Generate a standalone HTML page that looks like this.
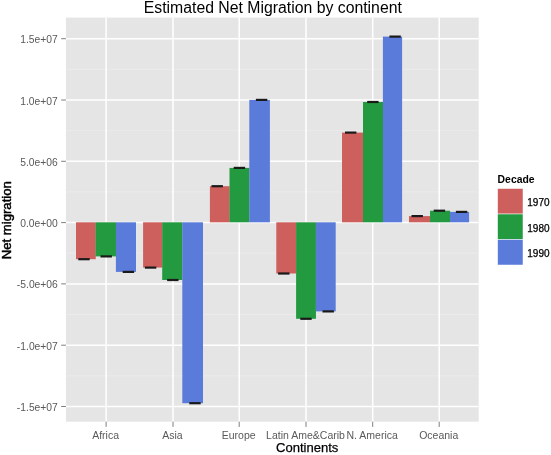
<!DOCTYPE html>
<html><head><meta charset="utf-8"><title>Estimated Net Migration by continent</title>
<style>html,body{margin:0;padding:0;background:#fff;}svg{display:block;}text{font-family:"Liberation Sans",Arial,Helvetica,sans-serif;}</style></head><body>
<svg width="551" height="455" viewBox="0 0 551 455">
<rect width="551" height="455" fill="#fff"/>
<rect x="65.9" y="17.6" width="412.8" height="404.1" fill="#E5E5E5"/>
<line x1="65.9" x2="478.7" y1="69.3" y2="69.3" stroke="#F0F0F0" stroke-width="0.5"/>
<line x1="65.9" x2="478.7" y1="130.6" y2="130.6" stroke="#F0F0F0" stroke-width="0.5"/>
<line x1="65.9" x2="478.7" y1="191.9" y2="191.9" stroke="#F0F0F0" stroke-width="0.5"/>
<line x1="65.9" x2="478.7" y1="253.2" y2="253.2" stroke="#F0F0F0" stroke-width="0.5"/>
<line x1="65.9" x2="478.7" y1="314.5" y2="314.5" stroke="#F0F0F0" stroke-width="0.5"/>
<line x1="65.9" x2="478.7" y1="375.8" y2="375.8" stroke="#F0F0F0" stroke-width="0.5"/>
<line x1="65.9" x2="478.7" y1="38.7" y2="38.7" stroke="#fff" stroke-width="1.5"/>
<line x1="65.9" x2="478.7" y1="100.0" y2="100.0" stroke="#fff" stroke-width="1.5"/>
<line x1="65.9" x2="478.7" y1="161.3" y2="161.3" stroke="#fff" stroke-width="1.5"/>
<line x1="65.9" x2="478.7" y1="222.6" y2="222.6" stroke="#fff" stroke-width="1.5"/>
<line x1="65.9" x2="478.7" y1="283.9" y2="283.9" stroke="#fff" stroke-width="1.5"/>
<line x1="65.9" x2="478.7" y1="345.2" y2="345.2" stroke="#fff" stroke-width="1.5"/>
<line x1="65.9" x2="478.7" y1="406.5" y2="406.5" stroke="#fff" stroke-width="1.5"/>
<line x1="106.1" x2="106.1" y1="17.6" y2="421.7" stroke="#fff" stroke-width="1.5"/>
<line x1="173.0" x2="173.0" y1="17.6" y2="421.7" stroke="#fff" stroke-width="1.5"/>
<line x1="239.2" x2="239.2" y1="17.6" y2="421.7" stroke="#fff" stroke-width="1.5"/>
<line x1="306.0" x2="306.0" y1="17.6" y2="421.7" stroke="#fff" stroke-width="1.5"/>
<line x1="372.7" x2="372.7" y1="17.6" y2="421.7" stroke="#fff" stroke-width="1.5"/>
<line x1="439.2" x2="439.2" y1="17.6" y2="421.7" stroke="#fff" stroke-width="1.5"/>
<rect x="76.00" y="222.3" width="19.75" height="36.9" fill="#CD5F5C"/>
<rect x="95.60" y="222.3" width="20.45" height="34.1" fill="#239A3F"/>
<rect x="115.90" y="222.3" width="20.10" height="49.6" fill="#5B7BDB"/>
<rect x="143.10" y="222.3" width="19.25" height="45.3" fill="#CD5F5C"/>
<rect x="162.20" y="222.3" width="20.25" height="57.7" fill="#239A3F"/>
<rect x="182.30" y="222.3" width="20.70" height="180.9" fill="#5B7BDB"/>
<rect x="209.90" y="186.2" width="19.75" height="36.1" fill="#CD5F5C"/>
<rect x="229.50" y="167.9" width="19.95" height="54.4" fill="#239A3F"/>
<rect x="249.30" y="99.9" width="20.60" height="122.4" fill="#5B7BDB"/>
<rect x="276.30" y="222.3" width="19.95" height="51.2" fill="#CD5F5C"/>
<rect x="296.10" y="222.3" width="19.85" height="96.5" fill="#239A3F"/>
<rect x="315.80" y="222.3" width="19.90" height="89.1" fill="#5B7BDB"/>
<rect x="342.00" y="132.6" width="21.15" height="89.7" fill="#CD5F5C"/>
<rect x="363.00" y="102.0" width="20.05" height="120.3" fill="#239A3F"/>
<rect x="382.90" y="36.6" width="19.20" height="185.7" fill="#5B7BDB"/>
<rect x="409.00" y="216.1" width="21.20" height="6.2" fill="#CD5F5C"/>
<rect x="430.05" y="210.7" width="20.05" height="11.6" fill="#239A3F"/>
<rect x="449.95" y="211.9" width="19.15" height="10.4" fill="#5B7BDB"/>
<rect x="78.3" y="258.1" width="11.4" height="2.2" fill="#1a1a1a"/>
<rect x="100.5" y="255.3" width="11.4" height="2.2" fill="#1a1a1a"/>
<rect x="122.7" y="270.8" width="11.4" height="2.2" fill="#1a1a1a"/>
<rect x="144.9" y="266.5" width="11.4" height="2.2" fill="#1a1a1a"/>
<rect x="167.1" y="278.9" width="11.4" height="2.2" fill="#1a1a1a"/>
<rect x="189.3" y="402.1" width="11.4" height="2.2" fill="#1a1a1a"/>
<rect x="211.5" y="185.1" width="11.4" height="2.2" fill="#1a1a1a"/>
<rect x="233.7" y="166.8" width="11.4" height="2.2" fill="#1a1a1a"/>
<rect x="255.9" y="98.8" width="11.4" height="2.2" fill="#1a1a1a"/>
<rect x="278.1" y="272.4" width="11.4" height="2.2" fill="#1a1a1a"/>
<rect x="300.3" y="317.7" width="11.4" height="2.2" fill="#1a1a1a"/>
<rect x="322.5" y="310.3" width="11.4" height="2.2" fill="#1a1a1a"/>
<rect x="345.0" y="131.5" width="11.4" height="2.2" fill="#1a1a1a"/>
<rect x="367.2" y="100.9" width="11.4" height="2.2" fill="#1a1a1a"/>
<rect x="389.4" y="35.5" width="11.4" height="2.2" fill="#1a1a1a"/>
<rect x="411.5" y="215.0" width="11.4" height="2.2" fill="#1a1a1a"/>
<rect x="433.7" y="209.6" width="11.4" height="2.2" fill="#1a1a1a"/>
<rect x="455.9" y="210.8" width="11.4" height="2.2" fill="#1a1a1a"/>
<line x1="61.2" x2="65.9" y1="38.7" y2="38.7" stroke="#7F7F7F" stroke-width="1"/>
<line x1="61.2" x2="65.9" y1="100.0" y2="100.0" stroke="#7F7F7F" stroke-width="1"/>
<line x1="61.2" x2="65.9" y1="161.3" y2="161.3" stroke="#7F7F7F" stroke-width="1"/>
<line x1="61.2" x2="65.9" y1="222.6" y2="222.6" stroke="#7F7F7F" stroke-width="1"/>
<line x1="61.2" x2="65.9" y1="283.9" y2="283.9" stroke="#7F7F7F" stroke-width="1"/>
<line x1="61.2" x2="65.9" y1="345.2" y2="345.2" stroke="#7F7F7F" stroke-width="1"/>
<line x1="61.2" x2="65.9" y1="406.5" y2="406.5" stroke="#7F7F7F" stroke-width="1"/>
<line x1="106.1" x2="106.1" y1="421.7" y2="426.9" stroke="#7F7F7F" stroke-width="1"/>
<line x1="173.0" x2="173.0" y1="421.7" y2="426.9" stroke="#7F7F7F" stroke-width="1"/>
<line x1="239.2" x2="239.2" y1="421.7" y2="426.9" stroke="#7F7F7F" stroke-width="1"/>
<line x1="306.0" x2="306.0" y1="421.7" y2="426.9" stroke="#7F7F7F" stroke-width="1"/>
<line x1="372.7" x2="372.7" y1="421.7" y2="426.9" stroke="#7F7F7F" stroke-width="1"/>
<line x1="439.2" x2="439.2" y1="421.7" y2="426.9" stroke="#7F7F7F" stroke-width="1"/>
<text x="57.8" y="43.2" text-anchor="end" font-size="10.3" fill="#595959">1.5e+07</text>
<text x="57.8" y="104.5" text-anchor="end" font-size="10.3" fill="#595959">1.0e+07</text>
<text x="57.8" y="165.8" text-anchor="end" font-size="10.3" fill="#595959">5.0e+06</text>
<text x="57.8" y="227.1" text-anchor="end" font-size="10.3" fill="#595959">0.0e+00</text>
<text x="57.8" y="288.4" text-anchor="end" font-size="10.3" fill="#595959">-5.0e+06</text>
<text x="57.8" y="349.7" text-anchor="end" font-size="10.3" fill="#595959">-1.0e+07</text>
<text x="57.8" y="411.0" text-anchor="end" font-size="10.3" fill="#595959">-1.5e+07</text>
<text x="105.6" y="438.7" text-anchor="middle" font-size="10.5" fill="#595959">Africa</text>
<text x="172.5" y="438.7" text-anchor="middle" font-size="10.5" fill="#595959">Asia</text>
<text x="238.7" y="438.7" text-anchor="middle" font-size="10.5" fill="#595959">Europe</text>
<text x="305.5" y="438.7" text-anchor="middle" font-size="10.5" fill="#595959">Latin Ame&amp;Carib</text>
<text x="372.2" y="438.7" text-anchor="middle" font-size="10.5" fill="#595959">N. America</text>
<text x="438.7" y="438.7" text-anchor="middle" font-size="10.5" fill="#595959">Oceania</text>
<text x="272.8" y="12.8" text-anchor="middle" font-size="15.8" fill="#000">Estimated Net Migration by continent</text>
<text x="307.2" y="452" text-anchor="middle" font-size="13.05" fill="#000" stroke="#000" stroke-width="0.25">Continents</text>
<text transform="translate(11.1,220.2) rotate(-90)" text-anchor="middle" font-size="13.15" fill="#000" stroke="#000" stroke-width="0.45">Net migration</text>
<text x="497.6" y="183.4" font-size="10.4" font-weight="bold" fill="#000">Decade</text>
<rect x="497.6" y="188.5" width="25.4" height="25.5" fill="#CD5F5C" stroke="#fff" stroke-width="0.5"/>
<text x="527.3" y="206.1" font-size="10" fill="#000" stroke="#000" stroke-width="0.25">1970</text>
<rect x="497.6" y="214.0" width="25.4" height="25.5" fill="#239A3F" stroke="#fff" stroke-width="0.5"/>
<text x="527.3" y="231.6" font-size="10" fill="#000" stroke="#000" stroke-width="0.25">1980</text>
<rect x="497.6" y="239.5" width="25.4" height="25.5" fill="#5B7BDB" stroke="#fff" stroke-width="0.5"/>
<text x="527.3" y="257.1" font-size="10" fill="#000" stroke="#000" stroke-width="0.25">1990</text>
</svg></body></html>
